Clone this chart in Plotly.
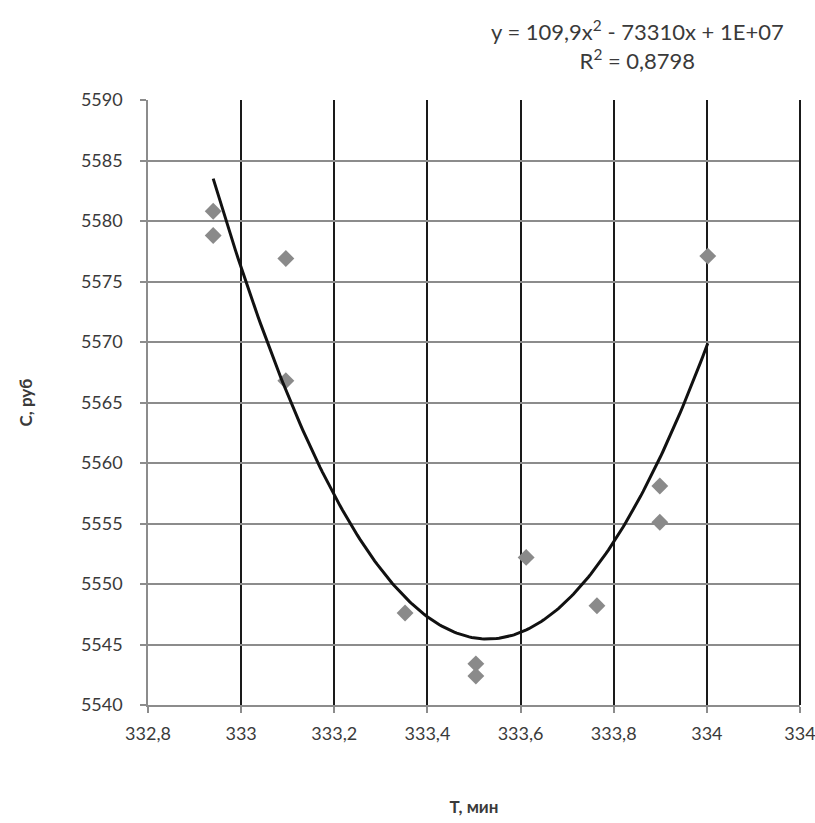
import numpy as np
import plotly.graph_objects as go

# Data
T_min = [332.94, 332.94, 333.096, 333.096, 333.352, 333.504, 333.504, 333.612, 333.764, 333.899, 333.899, 334.002]
C_rub = [5580.8, 5578.8, 5576.9, 5566.8, 5547.6, 5543.4, 5542.4, 5552.2, 5548.2, 5558.1, 5555.1, 5577.1]

x_tickvals = [332.8, 333.0, 333.2, 333.4, 333.6, 333.8, 334.0, 334.2]
x_ticktext = ["332,8", "333", "333,2", "333,4", "333,6", "333,8", "334", "334"]
y_tickvals = [5540, 5545, 5550, 5555, 5560, 5565, 5570, 5575, 5580, 5585, 5590]

eq_text = "y = 109,9x<sup>2</sup> - 73310x + 1E+07<br>R<sup>2</sup> = 0,8798"

# Polynomial (order 2) trendline
coef = np.polyfit(T_min, C_rub, 2)
xt = np.linspace(min(T_min), max(T_min), 200)
yt = np.polyval(coef, xt)

FONT = "Lato"
ML, MR, MT, MB = 148, 15, 100, 118
W, H = 815, 823

fig = go.Figure()
fig.add_trace(go.Scatter(
    x=T_min, y=C_rub, mode="markers",
    marker=dict(symbol="diamond", size=13, color="#8a8a8a", line=dict(width=0)),
    showlegend=False, cliponaxis=False,
))
fig.add_trace(go.Scatter(
    x=xt, y=yt, mode="lines",
    line=dict(color="#111111", width=3),
    showlegend=False,
))

pw, ph = W - ML - MR, H - MT - MB

fig.update_layout(
    width=W, height=H,
    margin=dict(l=ML, r=MR, t=MT, b=MB, autoexpand=False),
    paper_bgcolor="white", plot_bgcolor="white",
    font=dict(family=FONT, size=18, color="#3a3a3a"),
    xaxis=dict(
        range=[x_tickvals[0], x_tickvals[-1]], tickvals=x_tickvals, ticktext=x_ticktext,
        showgrid=True, gridcolor="#1a1a1a", gridwidth=1.5,
        showline=True, linecolor="#8c8c8c", linewidth=1.5,
        ticks="outside", ticklen=6, tickcolor="#8c8c8c", tickwidth=1.5,
        ticklabelstandoff=6, ticklabeloverflow="allow",
        zeroline=False, mirror=False, automargin=False,
        title=dict(text="<b>Т, мин</b>", font=dict(family=FONT, size=17, color="#3a3a3a"), standoff=58),
    ),
    yaxis=dict(
        range=[y_tickvals[0], y_tickvals[-1]], tickvals=y_tickvals,
        showgrid=True, gridcolor="#8c8c8c", gridwidth=1.5,
        showline=True, linecolor="#8c8c8c", linewidth=1.5,
        ticks="outside", ticklen=6, tickcolor="#8c8c8c", tickwidth=1.5,
        ticklabelstandoff=14, automargin=False, ticklabeloverflow="allow",
        zeroline=False,
        title=dict(text="<b>С, руб</b>", font=dict(family=FONT, size=17, color="#3a3a3a"), standoff=44),
    ),
    annotations=[dict(
        text=eq_text, x=(637 - ML) / pw, y=(705 - 45) / ph, xref="paper", yref="paper",
        xanchor="center", yanchor="middle",
        showarrow=False, align="center", font=dict(family=FONT, size=22, color="#3a3a3a"),
    )],
    shapes=[dict(
        type="line", xref="paper", yref="paper", x0=1, x1=1, y0=0, y1=1,
        line=dict(color="#1a1a1a", width=2), layer="above",
    )],
)

fig.write_html("out.html")
